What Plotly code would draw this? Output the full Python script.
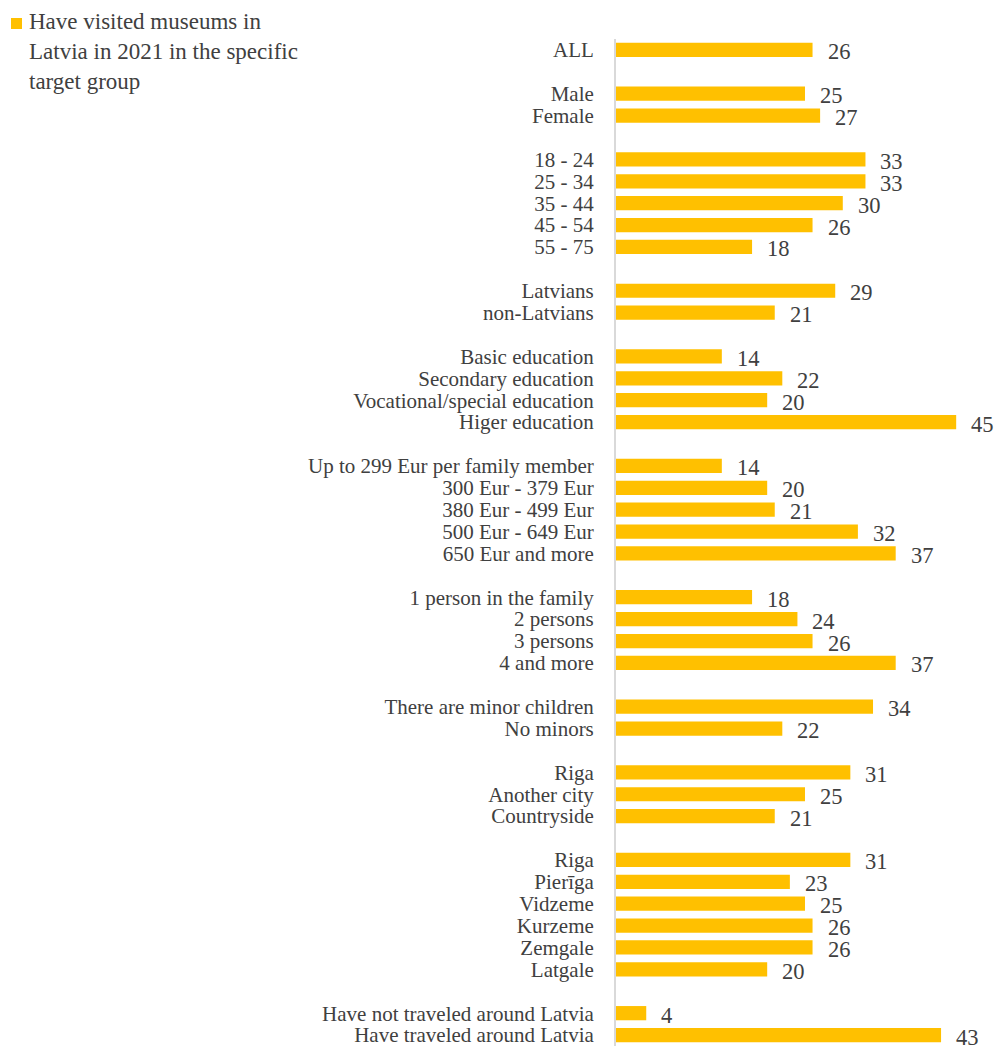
import plotly.graph_objects as go

# ---- data ----
total_labels = ["ALL"]
total_values = [26]
gender_labels = ["Male", "Female"]
gender_values = [25, 27]
age_labels = ["18 - 24", "25 - 34", "35 - 44", "45 - 54", "55 - 75"]
age_values = [33, 33, 30, 26, 18]
nation_labels = ["Latvians", "non-Latvians"]
nation_values = [29, 21]
edu_labels = ["Basic education", "Secondary education", "Vocational/special education", "Higer education"]
edu_values = [14, 22, 20, 45]
income_labels = ["Up to 299 Eur per family member", "300 Eur - 379 Eur", "380 Eur - 499 Eur",
                 "500 Eur - 649 Eur", "650 Eur and more"]
income_values = [14, 20, 21, 32, 37]
family_labels = ["1 person in the family", "2 persons", "3 persons", "4 and more"]
family_values = [18, 24, 26, 37]
minors_labels = ["There are minor children", "No minors"]
minors_values = [34, 22]
place_labels = ["Riga", "Another city", "Countryside"]
place_values = [31, 25, 21]
region_labels = ["Riga", "Pierīga", "Vidzeme", "Kurzeme", "Zemgale", "Latgale"]
region_values = [31, 23, 25, 26, 26, 20]
travel_labels = ["Have not traveled around Latvia", "Have traveled around Latvia"]
travel_values = [4, 43]

series_name = "Have visited museums in<br>Latvia in 2021 in the specific<br>target group"

groups = [
    (total_labels, total_values), (gender_labels, gender_values), (age_labels, age_values),
    (nation_labels, nation_values), (edu_labels, edu_values), (income_labels, income_values),
    (family_labels, family_values), (minors_labels, minors_values), (place_labels, place_values),
    (region_labels, region_values), (travel_labels, travel_values),
]

# build row positions: one empty row between groups
ypos, labels, values = [], [], []
row = 0
for gl, gv in groups:
    for l, v in zip(gl, gv):
        ypos.append(row)
        labels.append(l)
        values.append(v)
        row += 1
    row += 1
last_row = ypos[-1]

BAR = "#FFC000"
TXT = "#404040"
FONT = "Liberation Serif, Times New Roman, serif"

# plot area geometry (px)
W, H = 997, 1046
ML, MT = 616, 39
PW, PH = W - ML, H - MT


def px_x(p):
    return (p - ML) / PW


def px_y(p):
    return 1 - (p - MT) / PH


fig = go.Figure()
fig.add_trace(go.Bar(
    x=values, y=ypos, orientation="h", width=0.65,
    marker=dict(color=BAR, line=dict(width=0)),
    name=series_name.replace("<br>", " "), showlegend=False,
    hoverinfo="x+text", hovertext=labels,
))

for v, y in zip(values, ypos):
    fig.add_annotation(x=v, y=y, text=str(v), showarrow=False, xanchor="left",
                       xshift=13, yshift=-2,
                       font=dict(family=FONT, size=22.5, color=TXT))

# legend (drawn as swatch + text)
fig.add_shape(type="rect", xref="paper", yref="paper",
              x0=px_x(11), x1=px_x(22), y0=px_y(29), y1=px_y(18),
              fillcolor=BAR, line=dict(width=0), layer="above")
fig.add_annotation(xref="paper", yref="paper", x=px_x(28), y=px_y(51),
                   xanchor="left", yanchor="middle", align="left", showarrow=False,
                   borderpad=0, text=series_name,
                   font=dict(family=FONT, size=23, color=TXT))

fig.update_layout(
    width=W, height=H,
    margin=dict(l=ML, r=0, t=MT, b=0, autoexpand=False),
    plot_bgcolor="white", paper_bgcolor="white",
    font=dict(family=FONT, color=TXT),
    showlegend=False,
    xaxis=dict(range=[0, 50.4], visible=False, showgrid=False, zeroline=False),
    yaxis=dict(range=[last_row + 0.5, -0.5], tickmode="array", tickvals=ypos, ticktext=labels,
               showgrid=False, zeroline=False, showline=True, linecolor="#D9D9D9", linewidth=2,
               ticks="", ticklabelstandoff=16, automargin=False, ticklabeloverflow="allow",
               tickfont=dict(family=FONT, size=21, color=TXT)),
)

fig.write_html("out.html", config={"displayModeBar": False},
               post_script="document.body.style.margin='0px';")
